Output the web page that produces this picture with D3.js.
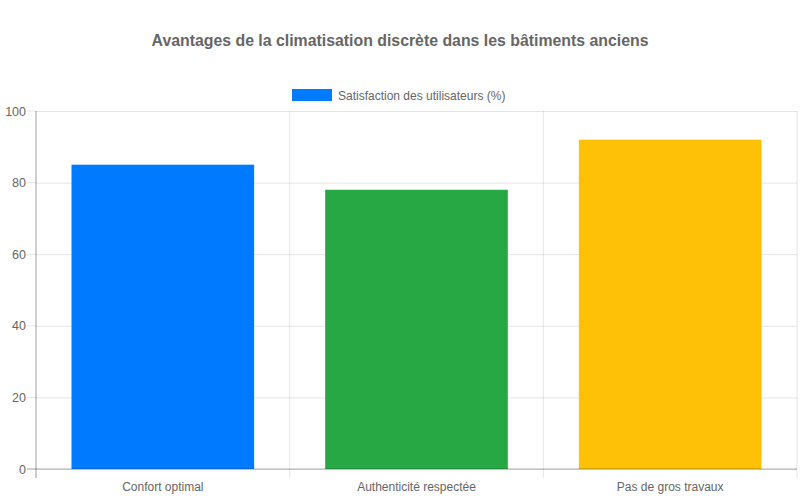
<!DOCTYPE html>
<html>
<head>
<meta charset="utf-8">
<script src="https://cdn.jsdelivr.net/npm/d3@7"></script>
<style>
  body { margin: 0; background: #fff; }
  svg { font-family: "Liberation Sans", Arial, Helvetica, sans-serif; }
</style>
</head>
<body>
<svg id="chart" width="800" height="500"></svg>
<script>
// data
const categories = ["Confort optimal", "Authenticité respectée", "Pas de gros travaux"];
const satisfaction = [85, 78, 92];
const barColors = ["#007bff", "#28a745", "#ffc107"];
const yTicks = [0, 20, 40, 60, 80, 100];
const seriesName = "Satisfaction des utilisateurs (%)";
const chartTitle = "Avantages de la climatisation discrète dans les bâtiments anciens";

const svg = d3.select("#chart");
const margin = {top: 111, right: 3, bottom: 31, left: 36};
const width = 800 - margin.left - margin.right,
      height = 500 - margin.top - margin.bottom;

// title
svg.append("text")
    .attr("x", 400)
    .attr("y", 46)
    .attr("text-anchor", "middle")
    .attr("font-size", "15.85px")
    .attr("font-weight", "bold")
    .attr("fill", "#666")
    .text(chartTitle);

// legend
const legend = svg.append("g");
legend.append("rect")
    .attr("x", 292).attr("y", 89)
    .attr("width", 40).attr("height", 12)
    .attr("fill", barColors[0]);
legend.append("text")
    .attr("x", 338).attr("y", 99.5)
    .attr("font-size", "12px")
    .attr("fill", "#666")
    .text(seriesName);

const g = svg.append("g")
    .attr("transform", "translate(" + margin.left + "," + margin.top + ")");

const x = d3.scaleBand()
    .domain(categories)
    .range([0, width]);

const y = d3.scaleLinear()
    .domain([0, 100])
    .range([height, 0]);

// horizontal grid + y axis labels
g.append("g")
    .call(d3.axisLeft(y).tickValues(yTicks).tickSize(-width).tickPadding(10))
    .call(a => a.select(".domain").remove())
    .call(a => a.selectAll(".tick line").attr("stroke", "rgba(0,0,0,0.1)"))
    .call(a => a.selectAll(".tick text").attr("fill", "#666").attr("font-size", "12.5px")
        .attr("font-family", "Liberation Sans, Arial, sans-serif"));
// small tick marks left of axis
g.append("g").selectAll("line")
    .data(yTicks)
    .join("line")
    .attr("x1", -9).attr("x2", 0)
    .attr("y1", d => y(d)).attr("y2", d => y(d))
    .attr("stroke", "rgba(0,0,0,0.1)");

// vertical grid at category edges
const edges = categories.map(c => x(c)).concat([width]);
g.append("g").selectAll("line")
    .data(edges)
    .join("line")
    .attr("x1", d => d).attr("x2", d => d)
    .attr("y1", 0).attr("y2", height + 9)
    .attr("stroke", "rgba(0,0,0,0.1)");

// bars
const barW = x.bandwidth() * 0.72;
g.selectAll(".bar")
    .data(satisfaction)
    .join("rect")
    .attr("class", "bar")
    .attr("x", (d, i) => x(categories[i]) + (x.bandwidth() - barW) / 2)
    .attr("y", d => y(d))
    .attr("width", barW)
    .attr("height", d => height - y(d))
    .attr("fill", (d, i) => barColors[i]);

// axis lines
g.append("line")
    .attr("x1", 0).attr("x2", 0)
    .attr("y1", 0).attr("y2", height + 9)
    .attr("stroke", "rgba(0,0,0,0.3)");
g.append("line")
    .attr("x1", -9).attr("x2", width)
    .attr("y1", height).attr("y2", height)
    .attr("stroke", "rgba(0,0,0,0.3)");

// x labels
g.append("g").selectAll("text")
    .data(categories)
    .join("text")
    .attr("x", d => x(d) + x.bandwidth() / 2)
    .attr("y", height + 22)
    .attr("text-anchor", "middle")
    .attr("font-size", "12px")
    .attr("fill", "#666")
    .text(d => d);
</script>
</body>
</html>
